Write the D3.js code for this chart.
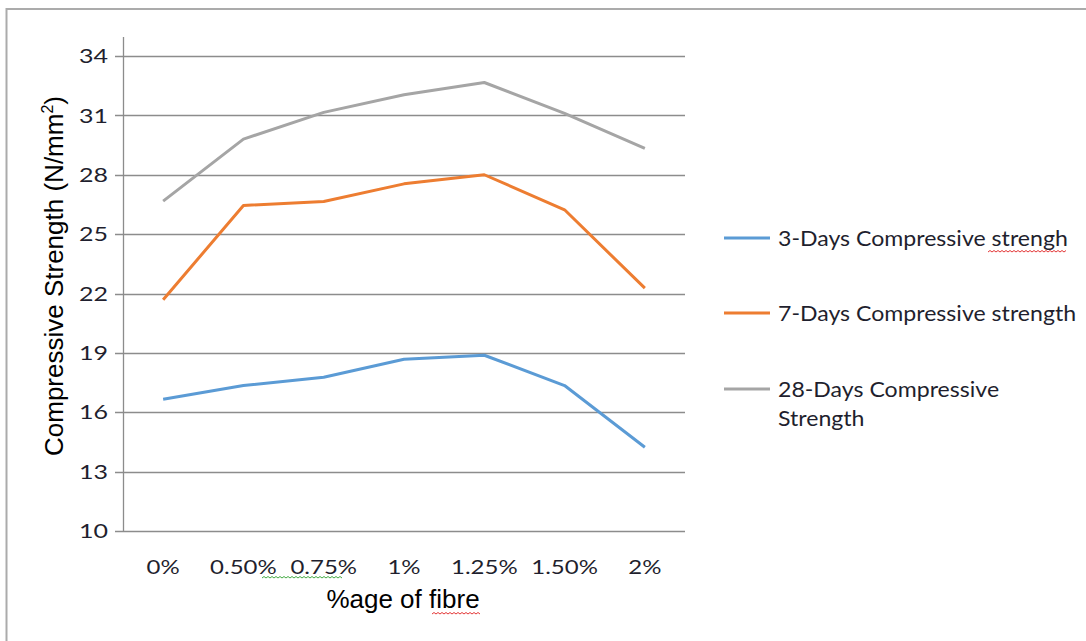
<!DOCTYPE html>
<html><head><meta charset="utf-8">
<script src="https://cdn.jsdelivr.net/npm/d3@7"></script>
<style>body{margin:0;background:#fff}svg{display:block}</style>
</head><body>
<svg id="c" width="1086" height="641"></svg>
<script>
const categories = ["0%","0.50%","0.75%","1%","1.25%","1.50%","2%"];
const seriesNames = ["3-Days Compressive strengh","7-Days Compressive strength","28-Days Compressive Strength"];
const day3  = [16.66,17.35,17.77,18.68,18.88,17.35,14.23];
const day7  = [21.68,26.45,26.65,27.54,28.0,26.23,22.27];
const day28 = [26.67,29.8,31.15,32.04,32.66,31.1,29.33];
const yTicks = [10,13,16,19,22,25,28,31,34];
const colors = ["#5B9BD5","#ED7D31","#A5A5A5"];
const series = [day3, day7, day28];

const svg = d3.select("#c");
svg.append("rect").attr("x",6.5).attr("y",9).attr("width",1200).attr("height",700)
  .attr("fill","none").attr("stroke","#ababab").attr("stroke-width",2);

const L=123, R=685, T=37, B=531;
const x = d3.scaleBand().domain(categories).range([L,R]);
const y = d3.scaleLinear().domain([10,34]).range([B,56]);
const gridCol = "#8c8c8c";

svg.append("g").selectAll("line").data(yTicks.slice(1)).join("line")
  .attr("x1",115).attr("x2",R).attr("y1",d=>Math.round(y(d))+0.5).attr("y2",d=>Math.round(y(d))+0.5)
  .attr("stroke",gridCol).attr("stroke-width",1.3);
svg.append("line").attr("x1",L+0.5).attr("x2",L+0.5).attr("y1",T).attr("y2",B)
  .attr("stroke",gridCol).attr("stroke-width",1.3);
svg.append("line").attr("x1",115).attr("x2",R).attr("y1",Math.round(y(10))+0.5).attr("y2",Math.round(y(10))+0.5)
  .attr("stroke",gridCol).attr("stroke-width",1.3);

const tickFont = "Lato, 'Open Sans', sans-serif";
const txtCol = "#1f1f2e";
svg.append("g").selectAll("text").data(yTicks).join("text")
  .attr("transform",d=>`translate(108,${y(d)}) scale(1.25,1)`).attr("dy","0.36em").attr("text-anchor","end")
  .attr("font-family",tickFont).attr("font-size",20).attr("fill",txtCol).text(d=>d);

svg.append("g").selectAll("text").data(categories).join("text")
  .attr("transform",d=>`translate(${x(d)+x.bandwidth()/2},567) scale(1.2,1)`).attr("dy","0.36em").attr("text-anchor","middle")
  .attr("font-family",tickFont).attr("font-size",20).attr("fill",txtCol).text(d=>d);

svg.append("text").attr("transform","translate(63,276) rotate(-90)").attr("text-anchor","middle")
  .attr("font-family","'Liberation Sans', Arial, sans-serif").attr("font-size",26).attr("fill","#000")
  .html('Compressive Strength (N/mm<tspan dy="-10" font-size="16">2</tspan><tspan dy="10">)</tspan>');
svg.append("text").attr("x",403).attr("y",608).attr("text-anchor","middle")
  .attr("font-family","'Liberation Sans', Arial, sans-serif").attr("font-size",26).attr("fill","#000")
  .text("%age of fibre");

const line = d3.line().x((d,i)=>x(categories[i])+x.bandwidth()/2).y(d=>y(d));
svg.append("g").selectAll("path").data(series).join("path")
  .attr("d",d=>line(d)).attr("fill","none").attr("stroke",(d,i)=>colors[i])
  .attr("stroke-width",3).attr("stroke-linejoin","round");

const legY = [238,313,389];
const lg = svg.append("g");
series.forEach((s,i)=>{
  lg.append("line").attr("x1",724).attr("x2",770).attr("y1",legY[i]).attr("y2",legY[i])
    .attr("stroke",colors[i]).attr("stroke-width",3);
});
const legLines = [["3-Days Compressive strengh"],["7-Days Compressive strength"],["28-Days Compressive","Strength"]];
legLines.forEach((ls,i)=>{
  ls.forEach((t,j)=>{
    lg.append("text").attr("transform",`translate(778,${legY[i]+j*29}) scale(1.05,1)`).attr("dy","0.36em")
      .attr("font-family",tickFont).attr("font-size",22).attr("fill",txtCol).text(t);
  });
});

function squiggle(x1,x2,yy,col){
  let d=`M${x1},${yy}`; let up=true;
  for(let xx=x1+2; xx<=x2; xx+=2){ d+=`L${xx},${yy+(up?-1.5:0)}`; up=!up; }
  svg.append("path").attr("d",d).attr("fill","none").attr("stroke",col).attr("stroke-width",0.9);
}
squiggle(988,1067,252,"#e02020");
squiggle(432,480,614,"#e02020");
squiggle(262,343,578,"#2fa02f");
</script>
</body></html>
